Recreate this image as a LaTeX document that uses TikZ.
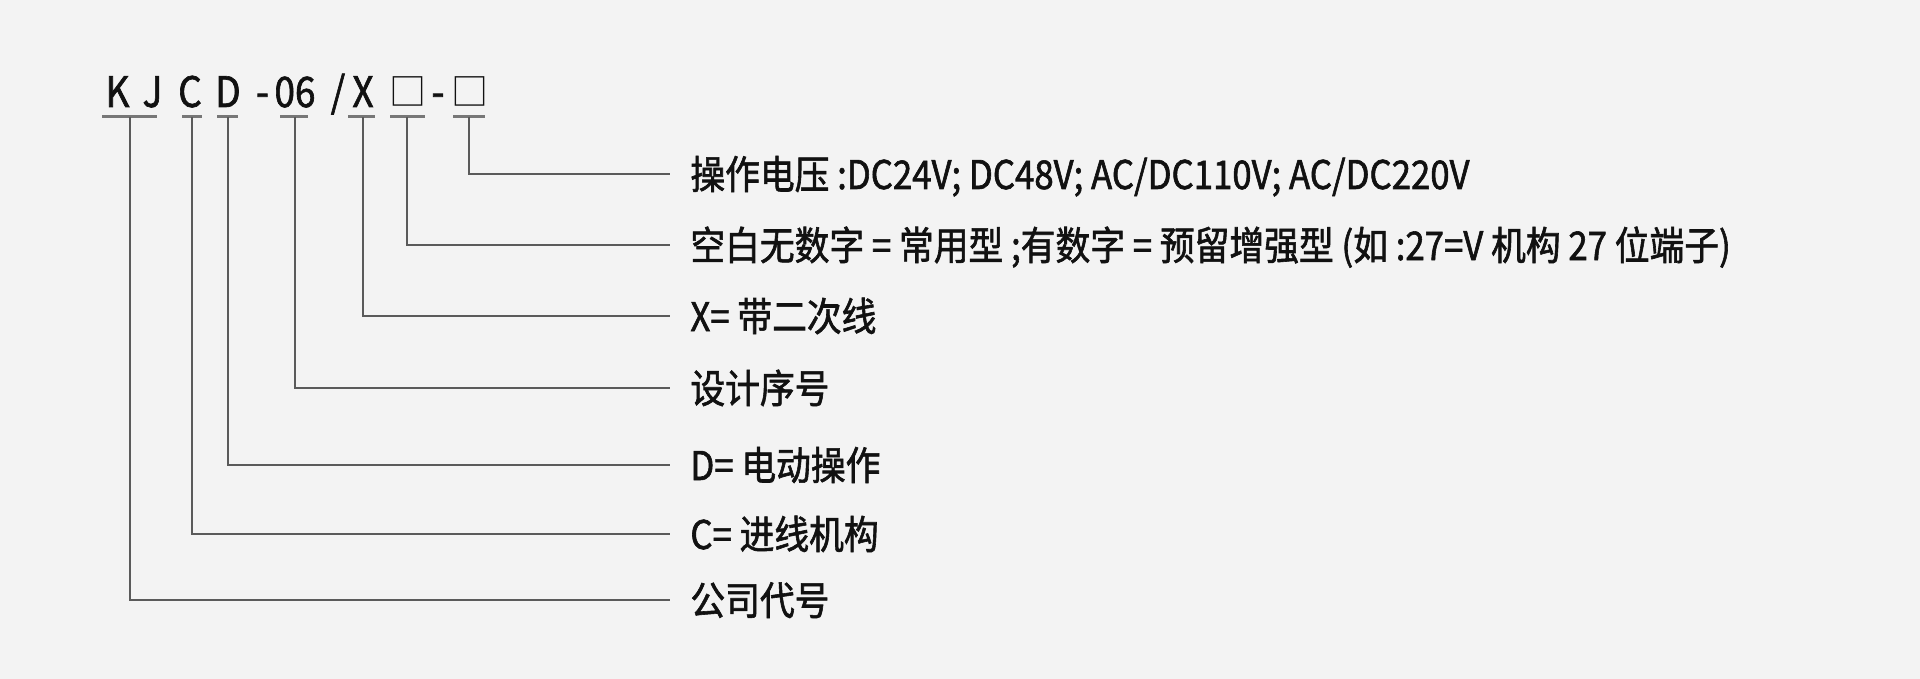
\documentclass[tikz,border=0pt]{standalone}
\usepackage{fontspec}
\newfontfamily\cjk[FakeStretch=0.88,FakeBold=1.5]{Noto Sans CJK SC}
\newfontfamily\cjkbox{Noto Sans CJK SC}
\definecolor{bg}{HTML}{F3F3F3}
\definecolor{ink}{HTML}{111111}
\definecolor{linec}{HTML}{5A5A5A}
\definecolor{ulc}{HTML}{777777}
\begin{document}
\begin{tikzpicture}[x=0.5pt,y=-0.5pt,
  codech/.style={anchor=base,inner sep=0pt,text=ink,font=\cjk\fontsize{21pt}{21pt}\selectfont},
  boxch/.style={anchor=base,inner sep=0pt,text=ink,font=\cjkbox\fontsize{18.5pt}{18.5pt}\selectfont},
  lab/.style={anchor=base west,inner sep=0pt,text=ink,font=\cjk\fontsize{19.75pt}{19.75pt}\selectfont},
  uline/.style={draw=ulc,line width=1.5pt},
  conn/.style={draw=linec,line width=1.3pt}]
\fill[bg] (0,0) rectangle (1920,679);
\useasboundingbox (0,0) rectangle (1920,679);
% code characters
\node[codech] (k) at (117.5,107) {K};
\node[codech] (j) at (152.5,107) {J};
\node[codech] (c) at (190,107) {C};
\node[codech] (d) at (228,107) {D};
\node[codech] (h1) at (262.5,107) {-};
\node[codech] (n06) at (295,107) {06};
\node[codech] (sl) at (338,107) {/};
\node[codech] (x) at (363,107) {X};
\node[boxch] (b1) at (407.5,106) {□};
\node[codech] (h2) at (438,107) {-};
\node[boxch] (b2) at (470,106) {□};
% underlines
\draw[uline] (102,117) -- (157,117);
\draw[uline] (182,117) -- (202,117);
\draw[uline] (217,117) -- (238,117);
\draw[uline] (280,117) -- (308,117);
\draw[uline] (348,117) -- (375,117);
\draw[uline] (390,117) -- (425,117);
\draw[uline] (453,117) -- (485,117);
\coordinate (ukj) at (130,117);
\coordinate (uc) at (192,117);
\coordinate (ud) at (228,117);
\coordinate (u06) at (295,117);
\coordinate (ux) at (363,117);
\coordinate (ub1) at (407,117);
\coordinate (ub2) at (469,117);
% line ends
\coordinate (e1) at (670,174);
\coordinate (e2) at (670,245);
\coordinate (e3) at (670,316);
\coordinate (e4) at (670,388);
\coordinate (e5) at (670,465);
\coordinate (e6) at (670,534);
\coordinate (e7) at (670,600);
% labels
\node[lab] (l1) at (690,189) {操作电压 :DC24V; DC48V; AC/DC110V; AC/DC220V};
\node[lab] (l2) at (690,260) {空白无数字 = 常用型 ;有数字 = 预留增强型 (如 :27=V 机构 27 位端子)};
\node[lab] (l3) at (690,331) {X= 带二次线};
\node[lab] (l4) at (690,403) {设计序号};
\node[lab] (l5) at (690,480) {D= 电动操作};
\node[lab] (l6) at (690,549) {C= 进线机构};
\node[lab] (l7) at (690,615) {公司代号};
% connectors
\draw[conn] (ub2) |- (e1);
\draw[conn] (ub1) |- (e2);
\draw[conn] (ux) |- (e3);
\draw[conn] (u06) |- (e4);
\draw[conn] (ud) |- (e5);
\draw[conn] (uc) |- (e6);
\draw[conn] (ukj) |- (e7);
\end{tikzpicture}
\end{document}
